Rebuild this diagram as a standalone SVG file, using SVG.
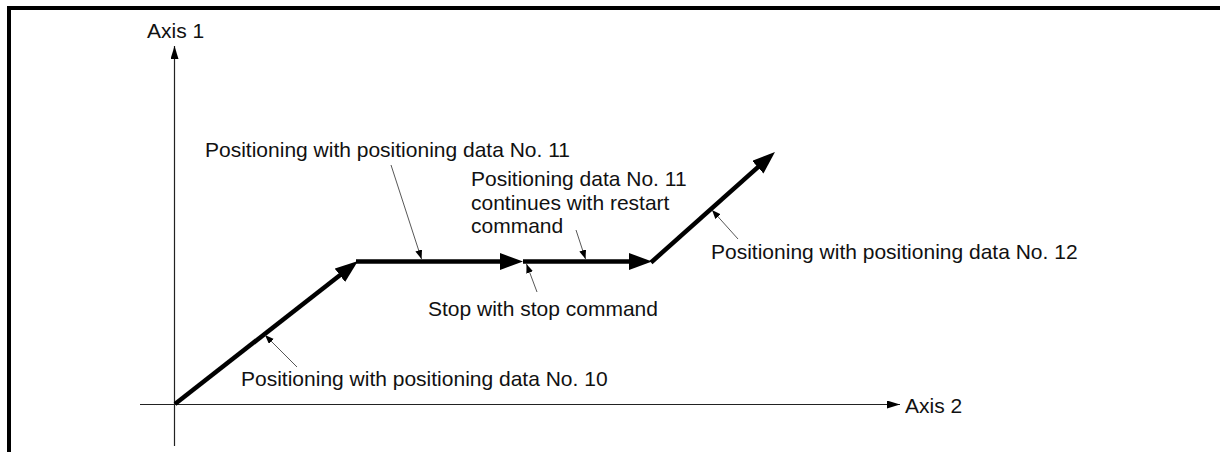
<svg xmlns="http://www.w3.org/2000/svg" width="1220" height="452" viewBox="0 0 1220 452">
<defs>
<style>
.t{font-family:"Liberation Sans",Arial,sans-serif;font-size:21px;fill:#111}
.axis{stroke:#222;stroke-width:1.2;fill:none}
.path{stroke:#000;stroke-width:4.5;fill:none}
.lead{stroke:#444;stroke-width:0.9;fill:none}
</style>
<marker id="big" markerUnits="userSpaceOnUse" markerWidth="24" markerHeight="18" refX="13" refY="8.5" orient="auto"><path d="M0,0 L23,8.5 L0,17 z" fill="#000"/></marker>
<marker id="ax" markerUnits="userSpaceOnUse" markerWidth="14" markerHeight="10" refX="13" refY="4" orient="auto"><path d="M0,0 L13,4 L0,8 z" fill="#000"/></marker>
<marker id="sm" markerUnits="userSpaceOnUse" markerWidth="10" markerHeight="8" refX="9" refY="3.5" orient="auto"><path d="M0,0 L9,3.5 L0,7 z" fill="#000"/></marker>
</defs>
<rect width="1220" height="452" fill="#fff"/>
<path d="M9,452 V8 H1220" stroke="#000" stroke-width="4" fill="none"/>
<g id="axes">
<line class="axis" x1="174.5" y1="446" x2="174.5" y2="46" marker-end="url(#ax)"/>
<line class="axis" x1="140" y1="404.5" x2="900" y2="404.5" marker-end="url(#ax)"/>
</g>
<g id="connectors">
<line class="path" x1="175" y1="404" x2="350.1" y2="267.2" marker-end="url(#big)"/>
<line class="path" x1="356" y1="261.5" x2="513" y2="261.5" marker-end="url(#big)"/>
<line class="path" x1="523" y1="261.5" x2="642" y2="261.5" marker-end="url(#big)"/>
<line class="path" x1="651" y1="262.5" x2="767.5" y2="158.6" marker-end="url(#big)"/>
<line class="lead" x1="297" y1="367" x2="265" y2="335" marker-end="url(#sm)"/>
<line class="lead" x1="391" y1="165" x2="421.5" y2="259" marker-end="url(#sm)"/>
<line class="lead" x1="537" y1="292" x2="526.5" y2="264" marker-end="url(#sm)"/>
<line class="lead" x1="576" y1="230" x2="585.5" y2="259" marker-end="url(#sm)"/>
<line class="lead" x1="738" y1="239" x2="712" y2="210" marker-end="url(#sm)"/>
</g>
<g id="label-axis1"><text class="t" x="147" y="38">Axis 1</text></g>
<g id="label-axis2"><text class="t" x="905" y="413">Axis 2</text></g>
<g id="label-no11"><text class="t" x="205" y="157">Positioning with positioning data No. 11</text></g>
<g id="label-restart"><text class="t" x="471" y="186">Positioning data No. 11</text><text class="t" x="471" y="210">continues with restart</text><text class="t" x="471" y="233">command</text></g>
<g id="label-stop"><text class="t" x="428" y="316">Stop with stop command</text></g>
<g id="label-no10"><text class="t" x="241" y="386">Positioning with positioning data No. 10</text></g>
<g id="label-no12"><text class="t" x="711" y="259">Positioning with positioning data No. 12</text></g>
</svg>
